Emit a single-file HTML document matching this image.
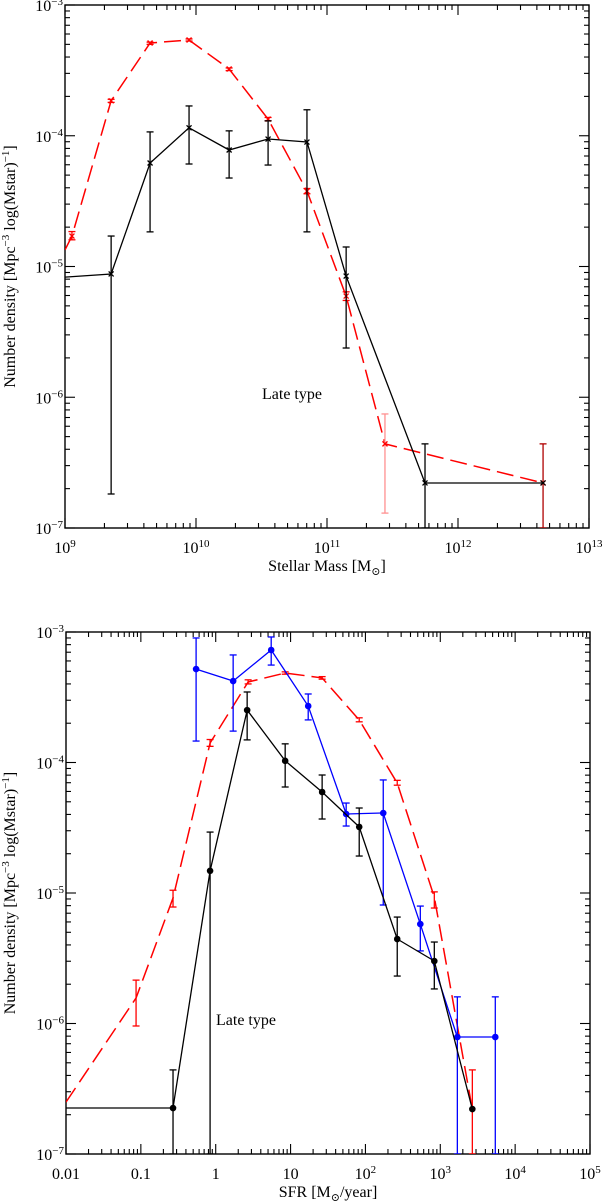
<!DOCTYPE html>
<html><head><meta charset="utf-8">
<style>
html,body{margin:0;padding:0;background:#fff;}
svg{display:block;font-family:"Liberation Serif","DejaVu Serif",serif;}
</style></head>
<body>
<svg id="chart" width="605" height="1203" viewBox="0 0 605 1203" xmlns="http://www.w3.org/2000/svg"></svg>
<script>
// ---------- Top panel data (stellar mass function) ----------
const massBlackX = [1.0e9, 2.25e9, 4.46e9, 8.85e9, 1.79e10, 3.55e10, 7.03e10, 1.40e11, 5.6e11, 4.46e12];
const massBlackY = [8.3e-6, 8.77e-6, 6.19e-5, 1.15e-4, 7.78e-5, 9.44e-5, 8.95e-5, 8.45e-6, 2.21e-7, 2.21e-7];
const massBlackHi = [null, 1.71e-5, 1.07e-4, 1.69e-4, 1.09e-4, 1.30e-4, 1.58e-4, 1.41e-5, 4.40e-7, null];
const massBlackLo = [null, 1.82e-7, 1.84e-5, 6.08e-5, 4.75e-5, 5.97e-5, 1.84e-5, 2.38e-6, 1.0e-7, null];
const massRedX = [1.0e9, 1.13e9, 2.25e9, 4.46e9, 8.85e9, 1.79e10, 3.55e10, 7.03e10, 1.40e11, 2.77e11, 4.46e12];
const massRedY = [1.34e-5, 1.71e-5, 1.85e-4, 5.12e-4, 5.40e-4, 3.24e-4, 1.34e-4, 3.77e-5, 5.94e-6, 4.40e-7, 2.21e-7];
const massRedHi = [null, 1.85e-5, 1.9e-4, 5.2e-4, 5.5e-4, 3.3e-4, 1.38e-4, 3.95e-5, 6.4e-6, 7.45e-7, 4.40e-7];
const massRedLo = [null, 1.6e-5, 1.8e-4, 5.0e-4, 5.3e-4, 3.15e-4, 1.30e-4, 3.6e-5, 5.5e-6, 1.30e-7, 1.0e-7];
const massXTicks = ["10<tspan dy='-6' font-size='11'>9</tspan>","10<tspan dy='-6' font-size='11'>10</tspan>","10<tspan dy='-6' font-size='11'>11</tspan>","10<tspan dy='-6' font-size='11'>12</tspan>","10<tspan dy='-6' font-size='11'>13</tspan>"];

// ---------- Bottom panel data (SFR function) ----------
const sfrBlueX = [0.547, 1.71, 5.51, 17.2, 55.3, 173, 541, 1690, 5430];
const sfrBlueY = [5.20e-4, 4.21e-4, 7.28e-4, 2.71e-4, 4.03e-5, 4.10e-5, 5.78e-6, 7.88e-7, 7.88e-7];
const sfrBlueHi = [9.0e-4, 6.67e-4, 9.16e-4, 3.35e-4, 4.89e-5, 7.35e-5, 7.94e-6, 1.60e-6, 1.60e-6];
const sfrBlueLo = [1.46e-4, 1.74e-4, 5.58e-4, 2.12e-4, 3.26e-5, 8.09e-6, 3.60e-6, 1.0e-7, 1.0e-7];
const sfrBlackX = [0.01, 0.269, 0.841, 2.63, 8.47, 26.4, 82.6, 266, 832, 2680];
const sfrBlackY = [2.25e-7, 2.25e-7, 1.48e-5, 2.52e-4, 1.03e-4, 5.94e-5, 3.21e-5, 4.44e-6, 3.01e-6, 2.21e-7];
const sfrBlackHi = [null, 4.41e-7, 2.93e-5, 3.47e-4, 1.39e-4, 8.02e-5, 4.48e-5, 6.54e-6, 4.21e-6, null];
const sfrBlackLo = [null, 1.0e-7, 1.0e-7, 1.49e-4, 6.49e-5, 3.69e-5, 1.92e-5, 2.31e-6, 1.84e-6, null];
const sfrRedX = [0.01, 0.0863, 0.269, 0.841, 2.71, 8.47, 26.4, 82.6, 266, 832, 2680];
const sfrRedY = [2.50e-7, 1.57e-6, 9.16e-6, 1.41e-4, 4.14e-4, 4.85e-4, 4.45e-4, 2.12e-4, 6.97e-5, 9.31e-6, 2.21e-7];
const sfrRedHi = [null, 2.15e-6, 1.05e-5, 1.5e-4, 4.3e-4, 4.95e-4, 4.55e-4, 2.2e-4, 7.3e-5, 1.02e-5, 4.41e-7];
const sfrRedLo = [null, 9.57e-7, 7.81e-6, 1.33e-4, 4.0e-4, 4.75e-4, 4.35e-4, 2.05e-4, 6.7e-5, 7.67e-6, 1.0e-7];
const sfrXTicks = ["0.01","0.1","1","10","10<tspan dy='-6' font-size='11'>2</tspan>","10<tspan dy='-6' font-size='11'>3</tspan>","10<tspan dy='-6' font-size='11'>4</tspan>","10<tspan dy='-6' font-size='11'>5</tspan>"];
const yTickLabels = ["10<tspan dy='-6' font-size='11'>−7</tspan>","10<tspan dy='-6' font-size='11'>−6</tspan>","10<tspan dy='-6' font-size='11'>−5</tspan>","10<tspan dy='-6' font-size='11'>−4</tspan>","10<tspan dy='-6' font-size='11'>−3</tspan>"];

const NS = "http://www.w3.org/2000/svg";
const svg = document.getElementById('chart');
function mk(tag, attrs, parent){
  const e = document.createElementNS(NS, tag);
  for (const k in attrs) e.setAttribute(k, attrs[k]);
  (parent||svg).appendChild(e);
  return e;
}

function panel(p){
  const g = mk('g', {});
  
  
  const sx = v => p.x0 + (Math.log10(v) - p.xmin) / (p.xmax - p.xmin) * (p.x1 - p.x0);
  const sy = v => p.y1 - (Math.log10(v) - p.ymin) / (p.ymax - p.ymin) * (p.y1 - p.y0);
  const clipId = 'clip-' + p.name;
  const cp = mk('clipPath', {id: clipId}, g);
  mk('rect', {x: p.x0, y: p.y0, width: p.x1 - p.x0, height: p.y1 - p.y0}, cp);
  const frame = mk('rect', {x: p.x0, y: p.y0, width: p.x1 - p.x0, height: p.y1 - p.y0, fill: 'none', stroke: '#000', 'stroke-width': 1.4}, g);
  
  
  const xt = mk('g', {stroke: '#000', 'stroke-width': 1.1}, g);
  
  
  for (let d = p.xmin; d <= p.xmax; d++) {
    for (let m = 1; m <= 9; m++) {
      if (d === p.xmax && m > 1) break;
      const x = sx(m * Math.pow(10, d));
      const L = m === 1 ? 10 : 5;
      mk('line', {x1: x, y1: p.y1, x2: x, y2: p.y1 - L}, xt);
      mk('line', {x1: x, y1: p.y0, x2: x, y2: p.y0 + L}, xt);
    }
  }
  for (let d = p.ymin; d <= p.ymax; d++) {
    for (let m = 1; m <= 9; m++) {
      if (d === p.ymax && m > 1) break;
      const y = sy(m * Math.pow(10, d));
      const L = m === 1 ? 10 : 5;
      mk('line', {x1: p.x0, y1: y, x2: p.x0 + L, y2: y}, xt);
      mk('line', {x1: p.x1, y1: y, x2: p.x1 - L, y2: y}, xt);
    }
  }
  p.xLabels.forEach((lab, i) => {
    const t = mk('text', {x: sx(Math.pow(10, p.xmin + i)), y: p.y1 + 25, 'font-size': 16, 'text-anchor': 'middle'}, g);
    
    
    t.innerHTML = lab;
  });
  yTickLabels.forEach((lab, i) => {
    const t = mk('text', {x: p.x0 - 2, y: sy(Math.pow(10, p.ymin + i)) + 6, 'font-size': 16, 'text-anchor': 'end'}, g);
    
    
    t.innerHTML = lab;
  });
  const xtit = mk('text', {x: (p.x0 + p.x1) / 2, y: p.y1 + 43, 'font-size': 16, 'text-anchor': 'middle'}, g);
  
  
  xtit.innerHTML = p.xTitle;
  const cy = (p.y0 + p.y1) / 2;
  const ytit = mk('text', {x: 15, y: cy, 'font-size': 16, 'text-anchor': 'middle', transform: 'rotate(-90 15 ' + cy + ')'}, g);
  
  
  ytit.innerHTML = "Number density [Mpc<tspan dy='-6' font-size='11'>−3</tspan><tspan dy='6'> log(Mstar)</tspan><tspan dy='-6' font-size='11'>−1</tspan><tspan dy='6'>]</tspan>";
  const lt = mk('text', {x: p.labelX, y: p.labelY, 'font-size': 16}, g);
  
  
  lt.textContent = 'Late type';
  const data = mk('g', {'clip-path': 'url(#' + clipId + ')'}, g);
  p.series.forEach(s => {
    const sg = mk('g', {}, data);
    
    
    const pts = s.x.map((v, i) => sx(v).toFixed(1) + ',' + sy(s.y[i]).toFixed(1)).join(' ');
    const attrs = {points: pts, fill: 'none', stroke: s.color, 'stroke-width': s.w || 1.3};
    if (s.dash) attrs['stroke-dasharray'] = s.dash;
    const pl = mk('polyline', attrs, sg);
    
    
    s.x.forEach((v, i) => {
      const x = sx(v), y = sy(s.y[i]);
      if (s.hi[i] != null) {
        const ec = (s.errColors && s.errColors[i]) || s.color;
        const eb = mk('g', {stroke: ec, 'stroke-width': 1.3}, sg);
        
        
        const yh = sy(s.hi[i]), yl = sy(s.lo[i]);
        mk('line', {x1: x, y1: yh, x2: x, y2: yl}, eb);
        mk('line', {x1: x - 3.5, y1: yh, x2: x + 3.5, y2: yh}, eb);
        mk('line', {x1: x - 3.5, y1: yl, x2: x + 3.5, y2: yl}, eb);
      }
      if (s.noMarker && s.noMarker[i]) return;
      if (s.marker === 'dot') {
        const c = mk('circle', {cx: x, cy: y, r: 3.3, fill: s.color}, sg);
        
        
      } else if (s.marker === 'x') {
        const c = mk('path', {d: `M${x-2.5},${y-2.5}L${x+2.5},${y+2.5}M${x-2.5},${y+2.5}L${x+2.5},${y-2.5}`, stroke: s.color, 'stroke-width': 1.3}, sg);
        
        
      }
    });
  });
}

panel({
  name: 'stellar-mass-panel', x0: 65, x1: 589, y0: 5, y1: 528,
  xmin: 9, xmax: 13, ymin: -7, ymax: -3, xLabels: massXTicks,
  xTitle: "Stellar Mass [M<tspan dy='4' font-size='11'>⊙</tspan><tspan dy='-4'>]</tspan>",
  labelX: 262, labelY: 399,
  series: [
    {name: 'red-dashed-series', x: massRedX, y: massRedY, hi: massRedHi, lo: massRedLo, color: '#ff0000', dash: '17,7', w: 1.5, marker: 'x', noMarker: [true],
     errColors: [null,null,null,null,null,null,null,null,null,'#ff9090','#b00000']},
    {name: 'black-series', x: massBlackX, y: massBlackY, hi: massBlackHi, lo: massBlackLo, color: '#000', marker: 'x', noMarker: [true]}
  ]
});

panel({
  name: 'sfr-panel', x0: 66, x1: 590, y0: 632, y1: 1154,
  xmin: -2, xmax: 5, ymin: -7, ymax: -3, xLabels: sfrXTicks,
  xTitle: "SFR [M<tspan dy='4' font-size='11'>⊙</tspan><tspan dy='-4'>/year]</tspan>",
  labelX: 216, labelY: 1025,
  series: [
    {name: 'red-dashed-series', x: sfrRedX, y: sfrRedY, hi: sfrRedHi, lo: sfrRedLo, color: '#ff0000', dash: '17,7', w: 1.5, marker: 'none'},
    {name: 'blue-series', x: sfrBlueX, y: sfrBlueY, hi: sfrBlueHi, lo: sfrBlueLo, color: '#0000ff', marker: 'dot'},
    {name: 'black-series', x: sfrBlackX, y: sfrBlackY, hi: sfrBlackHi, lo: sfrBlackLo, color: '#000', marker: 'dot', noMarker: [true]}
  ]
});
</script>
</body></html>
